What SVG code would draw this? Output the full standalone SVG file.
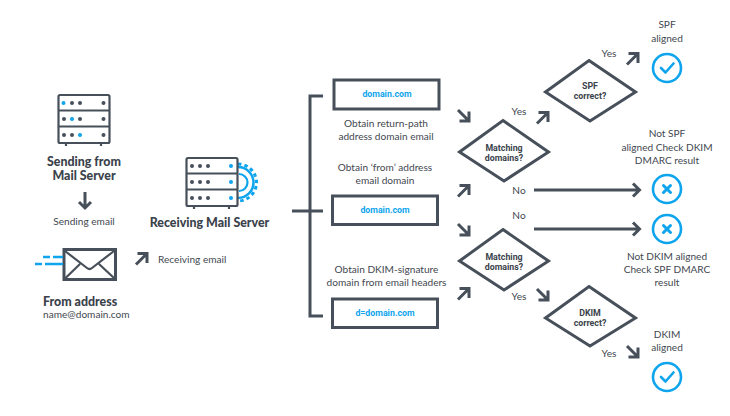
<svg xmlns="http://www.w3.org/2000/svg" xmlns:xlink="http://www.w3.org/1999/xlink" width="730" height="416" viewBox="0 0 730 416">
<style>
text{font-family:"Lato","Open Sans","Liberation Sans",sans-serif;fill:#3f4750;font-size:10.1px;text-anchor:middle}
.b{font-weight:900;font-size:12.4px;fill:#3a424b}
.m{font-family:"Roboto","Liberation Sans",sans-serif;font-weight:700;font-size:8.8px;fill:#3a424b}
.d{font-family:"Roboto","Liberation Sans",sans-serif;font-weight:700;font-size:8.8px;fill:#0ea5ee}
.l{text-anchor:start}
.s{fill:none;stroke:#47505a;stroke-width:3}
.t{fill:none;stroke:#47505a;stroke-width:2.2}
.w{fill:#fff;stroke:#47505a;stroke-width:3}
.c{fill:#fff;stroke:#0ea5ee;stroke-width:2.6}
.g{fill:none;stroke:#0ea5ee;stroke-width:2.6;stroke-linecap:round;stroke-linejoin:round}
.dg{fill:#47505a}.db{fill:#0ea5ee}
</style>
<defs>
<g id="ne"><path class="s" d="M1 12.5L12 1.5M2.5 1.5H12V11"/></g>
<g id="se"><path class="s" d="M1 1L12 12M12 2.5V12H2.5"/></g>
<g id="ok"><circle class="c" r="14"/><path class="g" d="M-6 0L-1.500 4.500L6.500 -4.500"/></g>
<g id="no"><circle class="c" r="14"/><path class="g" d="M-3.500 -3.500L3.500 3.500M3.500 -3.500L-3.500 3.500" style="stroke-width:3"/></g>
</defs>

<g id="connectors">
<path class="s" d="M323 96H310V316H323M292 211H323"/>
<path class="s" d="M85 192V208M79 202L85 208L91 202"/>
<use xlink:href="#ne" href="#ne" x="135" y="252"/>
<use xlink:href="#se" href="#se" x="457" y="109"/>
<use xlink:href="#ne" href="#ne" x="457" y="184"/>
<use xlink:href="#se" href="#se" x="457" y="223"/>
<use xlink:href="#ne" href="#ne" x="457" y="287"/>
<use xlink:href="#ne" href="#ne" x="536" y="111"/>
<use xlink:href="#ne" href="#ne" x="626" y="52"/>
<use xlink:href="#se" href="#se" x="536" y="288"/>
<use xlink:href="#se" href="#se" x="626" y="345"/>
<path class="s" d="M534 190H639M633 183.500L639.500 190L633 196.500"/>
<path class="s" d="M534 229H639M633 222.500L639.500 229L633 235.500"/>
<text x="519" y="115">Yes</text>
<text x="519" y="194">No</text>
<text x="519" y="219">No</text>
<text x="519" y="300">Yes</text>
<text x="609" y="57">Yes</text>
<text x="609" y="357">Yes</text>
</g>

<g id="sending-server">
<rect class="t" x="58.500" y="95" width="51" height="48" rx="1.500" fill="#fff"/>
<path class="t" d="M58 110.500H110M58 126.500H110M66 143V146M101 143V146"/>
<circle class="db" cx="63.500" cy="103" r="2"/><circle class="dg" cx="72" cy="103" r="2"/><circle class="dg" cx="80" cy="103" r="2"/><circle class="dg" cx="103.500" cy="103" r="2"/>
<circle class="dg" cx="64" cy="119" r="2"/><circle class="db" cx="72" cy="119" r="2"/><circle class="dg" cx="80" cy="119" r="2"/><circle class="dg" cx="103.500" cy="119" r="2"/>
<circle class="dg" cx="64" cy="135" r="2"/><circle class="dg" cx="72" cy="135" r="2"/><circle class="db" cx="80" cy="135" r="2"/><circle class="dg" cx="103.500" cy="135" r="2"/>
<text class="b" x="84" y="166">Sending from</text>
<text class="b" x="84" y="180">Mail Server</text>
<text x="84" y="225">Sending email</text>
</g>

<g id="receiving-server">
<path d="M238 167A15.500 15.500 0 0 1 238 198" fill="none" stroke="#0ea5ee" stroke-width="2.500"/>
<path d="M238 164A18.500 18.500 0 0 1 238 201" fill="none" stroke="#0ea5ee" stroke-width="3" stroke-dasharray="3.500 3"/>
<path d="M239 174A8.500 8.500 0 0 1 239 191" fill="none" stroke="#0ea5ee" stroke-width="2.200"/>
<rect class="t" x="186.500" y="158" width="51" height="48" rx="1.500" fill="#fff"/>
<path class="t" d="M186 173.500H238M186 189.500H238M194 206V209M229 206V209"/>
<circle class="dg" cx="192" cy="166" r="2"/><circle class="dg" cx="200" cy="166" r="2"/><circle class="dg" cx="208" cy="166" r="2"/><circle class="db" cx="231" cy="166" r="2"/>
<circle class="dg" cx="192" cy="182" r="2"/><circle class="dg" cx="200" cy="182" r="2"/><circle class="dg" cx="208" cy="182" r="2"/><circle class="db" cx="231" cy="182" r="2"/>
<circle class="dg" cx="192" cy="198" r="2"/><circle class="dg" cx="200" cy="198" r="2"/><circle class="dg" cx="208" cy="198" r="2"/><circle class="db" cx="231" cy="198" r="2"/>
<text class="b" x="209.500" y="227">Receiving Mail Server</text>
</g>

<g id="from-address">
<rect class="w" x="64" y="249.500" width="51.500" height="30"/>
<path class="t" d="M65 251L87 268Q89.500 270 92 268L114 251M65 278.500L80 264M114.500 278.500L99 264"/>
<path d="M43 257H50M53 257H63M35 264H42M45 264H63" fill="none" stroke="#0ea5ee" stroke-width="2.500"/>
<text class="l" x="158" y="263">Receiving email</text>
<text class="b l" x="43" y="305.500">From address</text>
<text class="l" x="43" y="318">name@domain.com</text>
</g>

<g id="return-path">
<rect class="w" x="334" y="80" width="105" height="29"/>
<text class="d" x="387" y="97">domain.com</text>
<text x="386" y="127">Obtain return-path</text>
<text x="386" y="140">address domain email</text>
</g>
<g id="from-domain">
<text x="385" y="171">Obtain ‘from’ address</text>
<text x="385" y="184">email domain</text>
<rect class="w" x="332.500" y="196" width="105" height="28.500"/>
<text class="d" x="385" y="213">domain.com</text>
</g>
<g id="dkim-signature">
<text x="386.500" y="273">Obtain DKIM-signature</text>
<text x="386.500" y="286">domain from email headers</text>
<rect class="w" x="332.500" y="299" width="105" height="28.500"/>
<text class="d" x="385" y="316">d=domain.com</text>
</g>

<g id="match-1">
<path class="w" d="M503 120.500L548.500 152L504 181L459.500 152Z"/>
<text class="m" x="504" y="151">Matching</text>
<text class="m" x="504" y="161">domains?</text>
</g>
<g id="match-2">
<path class="w" d="M503 229.500L548.500 261L504 290L459.500 261Z"/>
<text class="m" x="504" y="260">Matching</text>
<text class="m" x="504" y="270">domains?</text>
</g>
<g id="spf-correct">
<path class="w" d="M589 60.500L635.500 92L590 121L545.500 92Z"/>
<text class="m" x="590" y="89">SPF</text>
<text class="m" x="590" y="99">correct?</text>
</g>
<g id="dkim-correct">
<path class="w" d="M589 286.500L635.500 318L590 346L545.500 318Z"/>
<text class="m" x="590" y="316">DKIM</text>
<text class="m" x="590" y="326">correct?</text>
</g>

<g id="spf-aligned">
<text x="667" y="28">SPF</text>
<text x="667" y="42">aligned</text>
<use xlink:href="#ok" href="#ok" x="667" y="68"/>
</g>
<g id="not-spf">
<text x="667" y="137">Not SPF</text>
<text x="667" y="151">aligned Check DKIM</text>
<text x="667" y="164">DMARC result</text>
<use xlink:href="#no" href="#no" x="667" y="189"/>
</g>
<g id="not-dkim">
<use xlink:href="#no" href="#no" x="667" y="229"/>
<text x="667" y="260">Not DKIM aligned</text>
<text x="667" y="273">Check SPF DMARC</text>
<text x="667" y="286">result</text>
</g>
<g id="dkim-aligned">
<text x="667" y="338">DKIM</text>
<text x="667" y="351">aligned</text>
<use xlink:href="#ok" href="#ok" x="667" y="377"/>
</g>
</svg>
